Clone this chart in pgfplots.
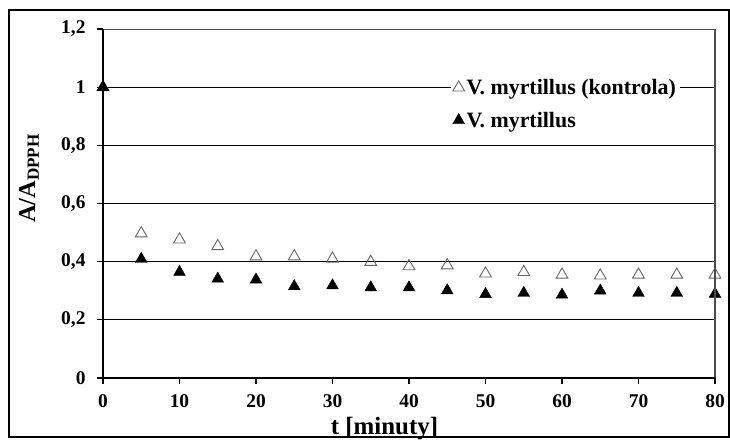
\documentclass[border=0pt]{standalone}
\usepackage{fontspec}
\setmainfont{Liberation Serif}
\usepackage{pgfplots}
\pgfplotsset{compat=1.18}
\begin{document}
\begin{tikzpicture}
\begin{axis}[
  scale only axis, width=612bp, height=349bp,
  xmin=0, xmax=80, ymin=0, ymax=1.2,
  xtick={0,10,20,30,40,50,60,70,80},
  ytick={0,0.2,0.4,0.6,0.8,1,1.2},
  /pgf/number format/assume math mode=true,
  yticklabel style={/pgf/number format/use comma, /pgf/number format/fixed, /pgf/number format/precision=1, xshift=-8bp},
  xticklabel style={/pgf/number format/fixed, /pgf/number format/precision=0, yshift=-7bp},
  ticklabel style={font=\fontsize{19.5}{19.5}\selectfont\bfseries},
  xtick pos=bottom, ytick pos=left,
  tick align=outside, major tick length=6bp,
  tick style={black, line width=1.3bp},
  axis line style={draw=none},
  ymajorgrids=true,
  major grid style={black, line width=0.8bp},
  xlabel={t [minuty]},
  xlabel style={at={(axis description cs:0.46,0)}, anchor=base, yshift=-56bp, font=\fontsize{25}{25}\selectfont\bfseries},
  ylabel={A/A$_{\mathbf{DPPH}}$},
  ylabel style={at={(axis description cs:-0.121,0.572)}, anchor=center, font=\fontsize{24.5}{24.5}\selectfont\bfseries},
  legend style={at={(axis description cs:0.568,0.868)}, anchor=north west, draw=none, fill=white,
    font=\fontsize{22}{22}\selectfont\bfseries, row sep=12bp, inner sep=2bp,
    /tikz/every even column/.append style={column sep=0bp}},
  legend cell align=left,
  legend image code/.code={\draw[mark repeat=2,mark phase=2,#1] plot coordinates {(0bp,0bp)(6bp,0bp)(12bp,0bp)};},
  after end axis/.code={
    \draw[black!70, line width=1.5bp] (rel axis cs:1,0) -- (rel axis cs:1,1);
    \draw[black!70, line width=1bp] (rel axis cs:0,1) -- (rel axis cs:1,1);
    \draw[black, line width=2bp] (rel axis cs:0,1) -- (rel axis cs:0,0) -- (rel axis cs:1,0);
  },
]
\addplot[only marks, mark=triangle, mark size=6.8bp, mark options={draw=black!60, fill=white, line width=0.9bp}]
  coordinates {(0,1.0)(5,0.497)(10,0.476)(15,0.453)(20,0.418)(25,0.418)(30,0.410)(35,0.399)(40,0.384)(45,0.387)(50,0.359)(55,0.364)(60,0.355)(65,0.352)(70,0.355)(75,0.355)(80,0.355)};
\addlegendentry{V. myrtillus (kontrola)}
\addplot[only marks, mark=triangle*, mark size=6.8bp, mark options={draw=black, fill=black}]
  coordinates {(0,1.0)(5,0.409)(10,0.364)(15,0.341)(20,0.338)(25,0.315)(30,0.318)(35,0.311)(40,0.311)(45,0.301)(50,0.288)(55,0.292)(60,0.286)(65,0.300)(70,0.292)(75,0.292)(80,0.289)};
\addlegendentry{V. myrtillus}
\end{axis}
\useasboundingbox ([shift={(-103bp,-60bp)}]current axis.south west) rectangle ([shift={(15bp,29bp)}]current axis.north east);
\draw[black, line width=2bp] ([shift={(-94bp,-59bp)}]current axis.south west) rectangle ([shift={(14bp,19bp)}]current axis.north east);
\end{tikzpicture}
\end{document}
